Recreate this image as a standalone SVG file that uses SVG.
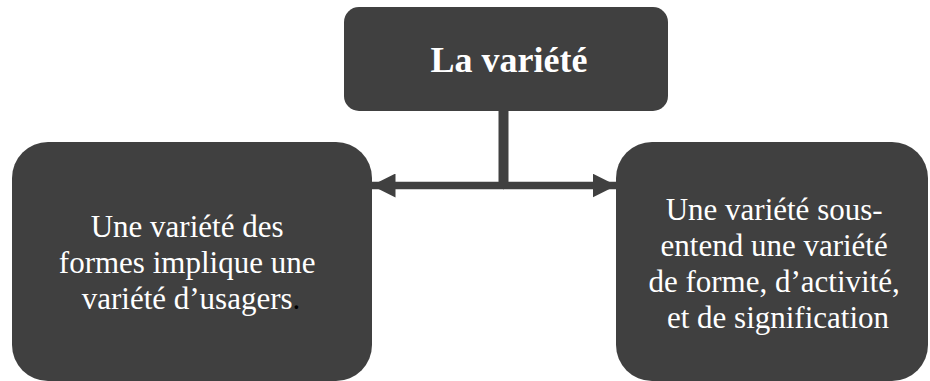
<svg xmlns="http://www.w3.org/2000/svg" width="930" height="381" viewBox="0 0 930 381">
<style>
.box{fill:#404040;}
.t{font-family:"Liberation Serif","Times New Roman",serif;fill:#ffffff;text-anchor:middle;}
.conn{stroke:#404040;stroke-width:7.5;fill:none;}
</style>
<defs>
<marker id="ah" markerUnits="userSpaceOnUse" markerWidth="24" markerHeight="24" refX="23.5" refY="12" orient="auto">
<path d="M0,0 L24,12 L0,24 Z" fill="#404040"/>
</marker>
</defs>
<rect width="930" height="381" fill="#ffffff"/>
<g id="connectors">
<line x1="503.5" y1="110" x2="503.5" y2="189" stroke="#404040" stroke-width="10"/>
<line class="conn" x1="504" y1="185.5" x2="372" y2="185.5" marker-end="url(#ah)"/>
<line class="conn" x1="503" y1="185.5" x2="616" y2="185.5" marker-end="url(#ah)"/>
</g>
<g id="top">
<rect class="box" x="344" y="7" width="324" height="104" rx="15"/>
<text class="t" x="509" y="72" font-size="36" font-weight="bold">La variété</text>
</g>
<g id="left">
<rect class="box" x="12" y="142" width="360" height="239" rx="36"/>
<text class="t" font-size="31">
<tspan x="191" y="237">Une variété des</tspan>
<tspan x="191" y="273">formes implique une</tspan>
<tspan x="191" y="309">variété d’usagers<tspan fill="#000000">.</tspan></tspan>
</text>
</g>
<g id="right">
<rect class="box" x="616" y="142" width="312" height="239" rx="36"/>
<text class="t" font-size="31">
<tspan x="778" y="220">Une variété sous-</tspan>
<tspan x="778" y="256">entend une variété</tspan>
<tspan x="778" y="292">de forme, d’activité,</tspan>
<tspan x="778" y="328">et de signification</tspan>
</text>
</g>
</svg>
